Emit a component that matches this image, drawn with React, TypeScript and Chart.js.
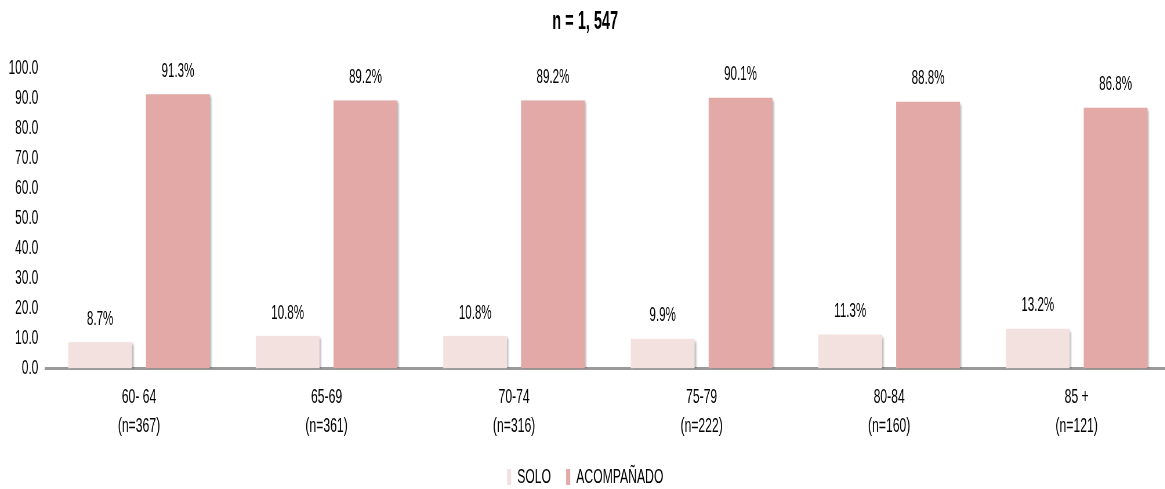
import React, { useEffect, useRef } from "react";
import { Chart, registerables } from "chart.js";

Chart.register(...registerables);

const categories: string[][] = [
  ["60- 64", "(n=367)"],
  ["65-69", "(n=361)"],
  ["70-74", "(n=316)"],
  ["75-79", "(n=222)"],
  ["80-84", "(n=160)"],
  ["85 +", "(n=121)"],
];
const soloValues = [8.7, 10.8, 10.8, 9.9, 11.3, 13.2];
const acompValues = [91.3, 89.2, 89.2, 90.1, 88.8, 86.8];
const seriesNames = ["SOLO", "ACOMPAÑADO"];
const titleText = "n = 1, 547";

const SX = 0.58;
const CANVAS_W = 2018;
const CANVAS_H = 489;
const FONT = "'Liberation Sans', Arial, sans-serif";

const shadowPlugin = {
  id: "barShadow",
  beforeDatasetsDraw(chart: any) {
    const ctx = chart.ctx;
    ctx.save();
    ctx.shadowColor = "rgba(0,0,0,0.28)";
    ctx.shadowOffsetX = 3;
    ctx.shadowOffsetY = 2;
    ctx.shadowBlur = 3;
  },
  afterDatasetsDraw(chart: any) {
    chart.ctx.restore();
  },
};

const valueLabelPlugin = {
  id: "valueLabels",
  afterDraw(chart: any) {
    const ctx = chart.ctx;
    ctx.save();
    ctx.font = `20px ${FONT}`;
    ctx.fillStyle = "#000";
    ctx.textAlign = "center";
    ctx.textBaseline = "middle";
    chart.data.datasets.forEach((ds: any, di: number) => {
      const meta = chart.getDatasetMeta(di);
      meta.data.forEach((el: any, i: number) => {
        const v = ds.data[i] as number;
        ctx.fillText(`${v.toFixed(1)}%`, el.x, el.y - 23);
      });
    });
    ctx.restore();
  },
};

export default function App() {
  const ref = useRef<HTMLCanvasElement | null>(null);
  useEffect(() => {
    if (!ref.current) return;
    const chart = new Chart(ref.current, {
      type: "bar",
      data: {
        labels: categories,
        datasets: [
          {
            label: seriesNames[0],
            data: soloValues,
            backgroundColor: "#F3E1DF",
            categoryPercentage: 0.83,
            barPercentage: 0.82,
          },
          {
            label: seriesNames[1],
            data: acompValues,
            backgroundColor: "#E2A9A7",
            categoryPercentage: 0.83,
            barPercentage: 0.82,
          },
        ],
      },
      options: {
        animation: false,
        responsive: false,
        maintainAspectRatio: false,
        devicePixelRatio: 1,
        layout: { padding: { left: 0, right: 0, top: 0, bottom: -8.5 } },
        font: { family: FONT },
        plugins: {
          title: {
            display: true,
            text: titleText,
            color: "#000",
            font: { family: FONT, size: 25, weight: "bold" },
            padding: { top: 7, bottom: 31 },
          },
          legend: {
            display: true,
            position: "bottom",
            labels: {
              color: "#000",
              font: { family: FONT, size: 21 },
              boxWidth: 7,
              boxHeight: 16,
              padding: 26,
            },
          },
          tooltip: { enabled: false },
        },
        scales: {
          x: {
            grid: { display: false, drawTicks: false },
            border: { display: true, color: "#9a9a9a", width: 3 },
            ticks: {
              color: "#000",
              font: { family: FONT, size: 21, lineHeight: 1.38 },
              padding: 14,
              maxRotation: 0,
              autoSkip: false,
            },
            afterFit: (scale: any) => {
              scale.height = 72;
            },
          },
          y: {
            min: 0,
            max: 100,
            grid: { display: false, drawTicks: false },
            border: { display: false },
            ticks: {
              stepSize: 10,
              color: "#000",
              font: { family: FONT, size: 20.5 },
              padding: 12,
              callback: (v: any) => Number(v).toFixed(1),
            },
            afterFit: (scale: any) => {
              scale.width = 78;
            },
          },
        },
      } as any,
      plugins: [shadowPlugin, valueLabelPlugin],
    });
    return () => chart.destroy();
  }, []);

  return (
    <div
      style={{
        position: "fixed",
        left: 0,
        top: 0,
        width: 1165,
        height: 489,
        overflow: "hidden",
        background: "#fff",
      }}
    >
      <canvas
        ref={ref}
        width={CANVAS_W}
        height={CANVAS_H}
        style={{
          display: "block",
          width: CANVAS_W,
          height: CANVAS_H,
          transform: `scaleX(${SX})`,
          transformOrigin: "left top",
        }}
      />
    </div>
  );
}
